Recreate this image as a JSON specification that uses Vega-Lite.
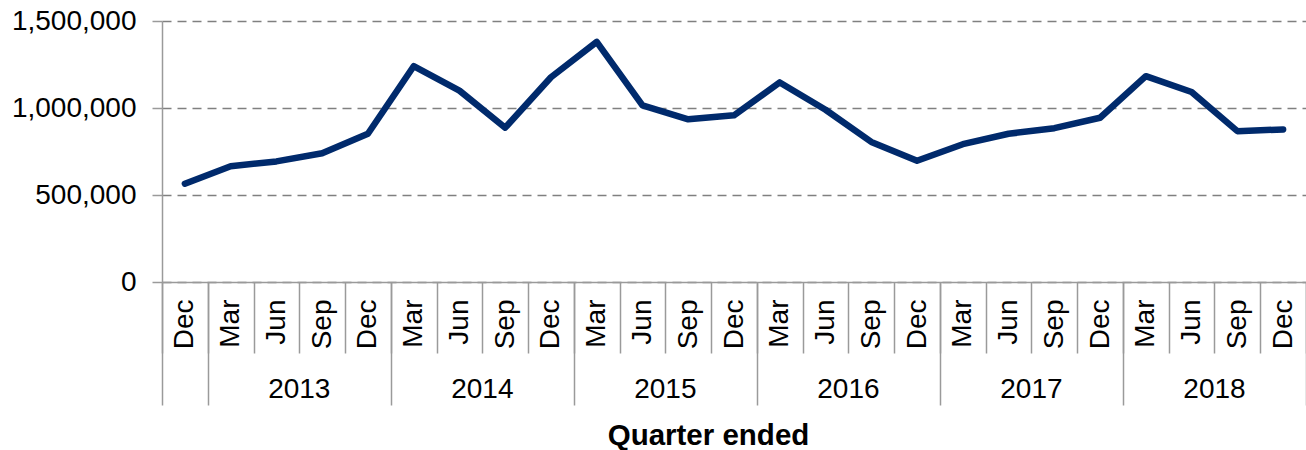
{
  "$schema": "https://vega.github.io/schema/vega-lite/v6.json",
  "width": 1144,
  "height": 261,
  "autosize": {"type": "none"},
  "padding": {"left": 162, "top": 21, "right": 0, "bottom": 168},
  "config": {
    "font": "Liberation Sans",
    "view": {"stroke": null},
    "axis": {"labelColor": "#000000", "titleColor": "#000000", "labelFontSize": 28, "labelFont": "Liberation Sans", "titleFont": "Liberation Sans"}
  },
  "data": {
    "values": [
      {"quarter": "Dec 2012", "value": 565000},
      {"quarter": "Mar 2013", "value": 665000},
      {"quarter": "Jun 2013", "value": 693000},
      {"quarter": "Sep 2013", "value": 740000},
      {"quarter": "Dec 2013", "value": 852000},
      {"quarter": "Mar 2014", "value": 1240000},
      {"quarter": "Jun 2014", "value": 1100000},
      {"quarter": "Sep 2014", "value": 887000},
      {"quarter": "Dec 2014", "value": 1177000},
      {"quarter": "Mar 2015", "value": 1380000},
      {"quarter": "Jun 2015", "value": 1015000},
      {"quarter": "Sep 2015", "value": 935000},
      {"quarter": "Dec 2015", "value": 958000},
      {"quarter": "Mar 2016", "value": 1147000},
      {"quarter": "Jun 2016", "value": 990000},
      {"quarter": "Sep 2016", "value": 805000},
      {"quarter": "Dec 2016", "value": 697000},
      {"quarter": "Mar 2017", "value": 792000},
      {"quarter": "Jun 2017", "value": 852000},
      {"quarter": "Sep 2017", "value": 884000},
      {"quarter": "Dec 2017", "value": 944000},
      {"quarter": "Mar 2018", "value": 1183000},
      {"quarter": "Jun 2018", "value": 1092000},
      {"quarter": "Sep 2018", "value": 867000},
      {"quarter": "Dec 2018", "value": 877000}
    ]
  },
  "resolve": {"axis": {"x": "independent"}},
  "layer": [
    {
      "mark": {"type": "line", "color": "#002a6c", "strokeWidth": 6.5, "strokeJoin": "round", "strokeCap": "round"},
      "encoding": {
        "x": {
          "field": "quarter", "type": "ordinal", "sort": null, "bandPosition": 0.5,
          "scale": {"type": "band", "paddingInner": 0, "paddingOuter": 0},
          "axis": {
            "orient": "bottom", "title": null, "grid": false,
            "domain": true, "domainColor": "#9a9a9a", "domainWidth": 1.5,
            "ticks": true, "tickBand": "extent", "tickSize": 71, "tickColor": "#9a9a9a", "tickWidth": 1.5,
            "labelAngle": -90, "labelAlign": "right", "labelBaseline": "middle", "labelPadding": -54,
            "labelOverlap": false, "labelFlush": false, "labelBound": false,
            "labelExpr": "datum.value ? split(datum.value, ' ')[0] : ''"
          }
        },
        "y": {
          "field": "value", "type": "quantitative",
          "scale": {"domain": [0, 1500000], "nice": false},
          "axis": {
            "title": null, "values": [0, 500000, 1000000, 1500000], "format": ",.0f",
            "grid": true, "gridDash": [9, 6], "gridColor": "#808080", "gridWidth": 1.7,
            "domain": true, "domainColor": "#9a9a9a", "domainWidth": 1.5,
            "ticks": true, "tickSize": 10, "tickColor": "#9a9a9a", "tickWidth": 1.5,
            "labelPadding": 16, "labelFontSize": 28
          }
        }
      }
    },
    {
      "mark": {"type": "point", "opacity": 0, "size": 0},
      "encoding": {
        "x": {
          "field": "quarter", "type": "ordinal", "sort": null,
          "axis": {
            "orient": "bottom", "title": null, "grid": false, "domain": false, "labels": false,
            "ticks": true, "tickBand": "extent", "tickSize": 123, "tickColor": "#9a9a9a", "tickWidth": 1.5,
            "values": ["Dec 2012", "Dec 2013", "Dec 2014", "Dec 2015", "Dec 2016", "Dec 2017", "Dec 2018"]
          }
        }
      }
    },
    {
      "mark": {"type": "point", "opacity": 0, "size": 0},
      "encoding": {
        "x": {
          "field": "quarter", "type": "ordinal", "sort": null,
          "axis": {
            "orient": "bottom", "grid": false, "domain": false, "ticks": false,
            "values": ["Jun 2013", "Jun 2014", "Jun 2015", "Jun 2016", "Jun 2017", "Jun 2018"],
            "labelExpr": "datum.value ? split(datum.value, ' ')[1] : ''", "labelOffset": 22.88, "labelPadding": 93,
            "labelAngle": 0, "labelAlign": "center", "labelBaseline": "top",
            "labelOverlap": false, "labelFlush": false, "labelBound": false,
            "title": "Quarter ended", "titleFontSize": 29.5, "titleFontWeight": "bold",
            "titleX": 546, "titleY": 162, "titleAlign": "center", "titleBaseline": "alphabetic", "titleAngle": 0
          }
        }
      }
    }
  ]
}
